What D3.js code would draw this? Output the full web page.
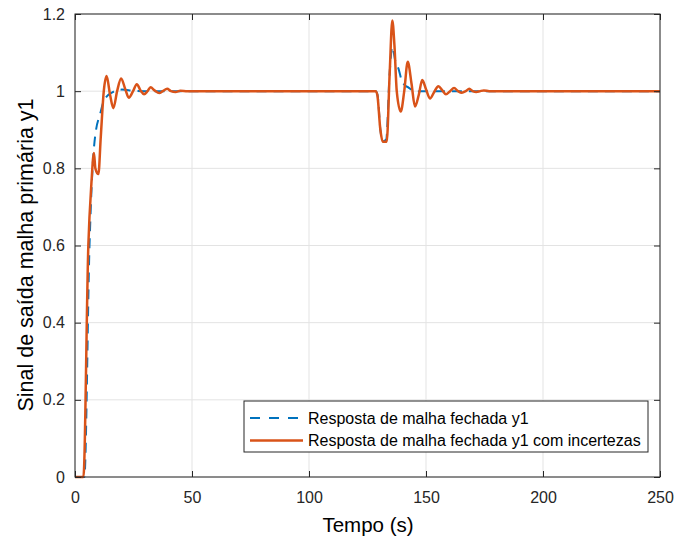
<!DOCTYPE html>
<html><head><meta charset="utf-8">
<script src="https://cdn.jsdelivr.net/npm/d3@7"></script>
<style>body{margin:0;background:#fff}svg{font-family:"Liberation Sans",Arial,sans-serif}</style>
</head><body><svg id="c" width="676" height="540"></svg>
<script>
const xTicks=[0,50,100,150,200,250];
const yTicks=[0,0.2,0.4,0.6,0.8,1,1.2];
const yTickLabels=["0","0.2","0.4","0.6","0.8","1","1.2"];
const seriesNames=["Resposta de malha fechada y1","Resposta de malha fechada y1 com incertezas"];
const blueT=[0,4,6.2,7.5,8.2,9,10.7,12,13.5,16,18,20,25,30,128.5,129.3,130.5,131.5,133,134.5,135.6,137,138.2,139.5,141,142.4,144,146,150,250];
const blueY=[0,0,0.6,0.8,0.86,0.9,0.94,0.97,0.986,0.997,1.003,1.004,1.001,1,1,0.99,0.9,0.87,0.875,1.05,1.115,1.075,1.059,1.03,1.015,1.01,1.003,0.999,1,1];
const orangeT=[0,3.6,5.7,7,8.1,8.7,10,11,12.3,13.5,15,16.4,18,19.7,21.5,23,24.8,26.4,28,29.5,31,32.3,34,36,37.5,39.4,41,43,45,48,
128.5,129.2,130.5,131.5,133.2,134.5,135.6,136.5,137.5,139.2,140.7,142.2,143.8,145.3,146.9,148.4,150,151.7,153.5,155.3,157,158.5,160.3,162,163.7,165.3,167,168.5,170,171.5,173,174.7,177,250];
const orangeY=[0,0,0.6,0.76,0.84,0.80,0.785,0.88,1.0,1.039,0.99,0.956,1.0,1.033,1.005,0.983,1.0,1.018,1.002,0.992,1.0,1.010,1.002,0.995,1.0,1.006,1.0,0.998,1.001,1,
1,0.99,0.9,0.869,0.869,1.05,1.183,1.12,1.0,0.947,1.0,1.076,1.02,0.960,0.99,1.029,1.005,0.981,0.998,1.013,1.002,0.992,1.0,1.008,1.0,0.996,1.0,1.006,1.0,0.998,1.0,1.002,1.0,1];

const L=75,R=660,T=14,B=477;
const svg=d3.select("#c");
const x=d3.scaleLinear().domain([0,250]).range([L,R]);
const y=d3.scaleLinear().domain([0,1.2]).range([B,T]);
const ax="#262626";
// grid
svg.append("g").selectAll("line").data(xTicks).join("line")
 .attr("x1",d=>x(d)).attr("x2",d=>x(d)).attr("y1",T).attr("y2",B).attr("stroke","#e3e3e3").attr("stroke-width",1);
svg.append("g").selectAll("line").data(yTicks).join("line")
 .attr("y1",d=>y(d)).attr("y2",d=>y(d)).attr("x1",L).attr("x2",R).attr("stroke","#e3e3e3").attr("stroke-width",1);
// lines
const line=d3.line().x(d=>x(d[0])).y(d=>y(d[1])).curve(d3.curveMonotoneX);
svg.append("path").datum(blueT.map((t,i)=>[t,blueY[i]])).attr("d",line)
 .attr("fill","none").attr("stroke","#0072BD").attr("stroke-width",2).attr("stroke-dasharray","10,7");
svg.append("path").datum(orangeT.map((t,i)=>[t,orangeY[i]])).attr("d",line)
 .attr("fill","none").attr("stroke","#D95319").attr("stroke-width",2.5).attr("stroke-linejoin","round");
// axes
const xa=d3.axisBottom(x).tickValues(xTicks).tickSize(-6).tickPadding(14.5).tickFormat(d3.format("d"));
const gx=svg.append("g").attr("transform",`translate(0,${B})`).call(xa);
const ya=d3.axisLeft(y).tickValues(yTicks).tickSize(-6).tickPadding(10).tickFormat((d,i)=>yTickLabels[i]);
const gy=svg.append("g").attr("transform",`translate(${L},0)`).call(ya);
const xt=d3.axisTop(x).tickValues(xTicks).tickSize(-6).tickFormat("");
const gxt=svg.append("g").attr("transform",`translate(0,${T})`).call(xt);
const yr=d3.axisRight(y).tickValues(yTicks).tickSize(-6).tickFormat("");
const gyr=svg.append("g").attr("transform",`translate(${R},0)`).call(yr);
[gx,gy,gxt,gyr].forEach(g=>{g.select(".domain").remove();g.selectAll("line").attr("stroke",ax);g.selectAll("text").attr("fill",ax).style("font-size","16px").style("font-family","Liberation Sans, Arial, sans-serif");});
svg.append("rect").attr("x",L).attr("y",T).attr("width",R-L).attr("height",B-T).attr("fill","none").attr("stroke",ax).attr("stroke-width",1);
// labels
svg.append("text").attr("x",368).attr("y",532).attr("text-anchor","middle").attr("fill","#000").style("font-size","20.5px").text("Tempo (s)");
svg.append("text").attr("transform",`translate(32.5,255) rotate(-90)`).attr("text-anchor","middle").attr("fill","#000").style("font-size","21.5px").text("Sinal de saída malha primária y1");
// legend
const lg=svg.append("g");
lg.append("rect").attr("x",244).attr("y",401).attr("width",404).attr("height",51).attr("fill","#fff").attr("stroke",ax).attr("stroke-width",1);
const colors=["#0072BD","#D95319"];
seriesNames.forEach((n,i)=>{
 const yy=418+i*22.5;
 lg.append("line").attr("x1",250).attr("x2",303).attr("y1",yy).attr("y2",yy).attr("stroke",colors[i]).attr("stroke-width",i?2.5:2).attr("stroke-dasharray",i?null:"10,9");
 lg.append("text").attr("x",308).attr("y",yy+5.5).attr("fill","#000").style("font-size","16px").text(n);
});
</script></body></html>
